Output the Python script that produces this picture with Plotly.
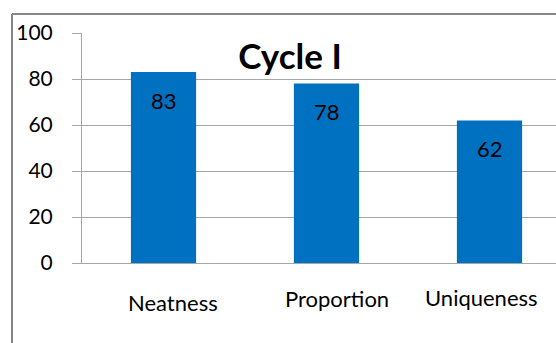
import plotly.graph_objects as go

categories = ["Neatness", "Proportion", "Uniqueness"]
values = [83, 78, 62]
y_ticks = [0, 20, 40, 60, 80, 100]
title_text = "Cycle I"

W, H = 556, 343
L, R, T, B = 82, 0, 33, 80
pw, ph = W - L - R, H - T - B

FONT = "Lato"
GRID = "#a6a6a6"

# category label placement (pixel offsets / vertical centres, style only)
label_xshift = [9, 10, -8]
label_ycenter_px = [302, 298.5, 297]

fig = go.Figure()
fig.add_trace(go.Bar(
    x=categories, y=values,
    marker=dict(color="#0070C0", line=dict(width=0)),
    width=0.4, hoverinfo="skip",
))

for c, v in zip(categories, values):
    fig.add_annotation(x=c, y=v, text=str(v), showarrow=False,
                       yanchor="middle", yshift=-28,
                       font=dict(family=FONT, size=22, color="#000000"))

for c, xs, yc in zip(categories, label_xshift, label_ycenter_px):
    fig.add_annotation(x=c, xref="x", yref="paper", y=(H - B - yc) / ph,
                       yanchor="middle", xanchor="center", xshift=xs,
                       text=c, showarrow=False,
                       font=dict(family=FONT, size=22, color="#000000"))

# outer chart border (left and top visible)
bx = (12 - L) / pw
by_top = (H - B - 14) / ph
by_bot = (H - B - 400) / ph
fig.add_shape(type="line", xref="paper", yref="paper", x0=bx, x1=bx,
              y0=by_bot, y1=by_top, line=dict(color="#868686", width=2))
fig.add_shape(type="line", xref="paper", yref="paper", x0=bx, x1=1.2,
              y0=by_top, y1=by_top, line=dict(color="#868686", width=2))

fig.update_layout(
    width=W, height=H,
    margin=dict(l=L, r=R, t=T, b=B, pad=0),
    paper_bgcolor="white", plot_bgcolor="white",
    showlegend=False,
    title=dict(text="<b>" + title_text + "</b>", x=290 / W, xanchor="center",
               y=1 - 57 / H, yanchor="middle", yref="container",
               font=dict(family=FONT, size=35, color="#000000")),
    bargap=0.6,
)
fig.update_xaxes(
    range=[-0.5, -0.5 + pw / 163.0],
    showline=True, linecolor=GRID, linewidth=1,
    showgrid=False, ticks="", showticklabels=False,
)
fig.update_yaxes(
    range=[0, 100], tickvals=y_ticks,
    showline=True, linecolor=GRID, linewidth=1,
    showgrid=True, gridcolor=GRID, gridwidth=1,
    zeroline=True, zerolinecolor=GRID, zerolinewidth=1,
    ticks="outside", ticklen=9, tickcolor=GRID,
    ticklabelstandoff=15,
    tickfont=dict(family=FONT, size=21, color="#000000"),
)

fig.write_html("out.html")
